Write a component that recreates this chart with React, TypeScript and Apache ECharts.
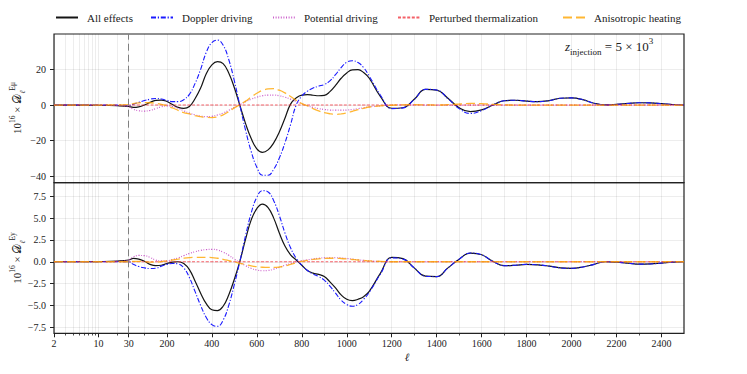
import React, { useEffect, useRef } from "react";
import * as echarts from "echarts";

// multipole grid (ℓ)
const ELL = [
  2, 5, 10, 20,
  30,
  50, 75, 100, 125, 150, 175, 200, 225, 250, 275,
  300, 325, 350, 375, 400, 425, 450, 475, 500, 525, 550, 575,
  600, 625, 650, 675, 700, 725, 750, 775, 800, 825, 850, 875,
  900, 925, 950, 975, 1000, 1025, 1050, 1075, 1100,
  1150, 1200, 1250, 1300, 1350, 1400, 1450, 1500, 1550, 1600, 1650, 1700, 1750, 1800,
  1850, 1900, 1950, 2000, 2050, 2100, 2150, 2200, 2250, 2300, 2350, 2400, 2450, 2500,
];

// Top panel: 10^16 x D_l^{E mu}
const TOP_ALL = [
  0, 0, -0.1, -0.4,
  -0.8,
  -1.3, -1.0, 0.0, 1.5, 2.6, 2.8, 2.0, 0.3, -1.3, -1.9,
  -0.8, 3.5, 9.5, 17.5, 22.5, 24.3, 23.2, 18.0, 9.7, -0.4, -10.4, -18.8,
  -24.5, -26.5, -25.1, -21.2, -15.1, -7.4, 0.5, 4.0, 5.6, 5.8, 5.5, 5.2,
  5.4, 7.5, 11.0, 15.0, 18.0, 19.7, 19.8, 18.2, 15.0,
  4.7, -1.8, -1.5, 3.2, 8.8, 8.4, 3.8, -1.5, -3.7, -2.7, 0.0, 2.4, 2.7, 2.2,
  1.9, 2.5, 3.8, 4.0, 3.0, 1.0, 0.1, 0.4, 0.9, 1.3, 1.2, 0.8, 0.3, 0.0,
];
const TOP_DOP = [
  0, 0, 0, 0,
  -0.3,
  0.5, 1.5, 2.5, 3.3, 3.7, 3.4, 2.6, 1.9, 1.9, 3.0,
  6.0, 12.0, 20.0, 29.5, 35.0, 36.4, 33.6, 25.5, 13.5, -0.5, -14.2, -26.1,
  -34.8, -39.3, -39.3, -36.0, -29.7, -21.2, -11.0, 0.0, 5.0, 7.8, 9.5, 10.6,
  11.5, 13.5, 17.0, 21.0, 24.0, 24.8, 23.8, 21.0, 16.2,
  5.5, -2.0, -1.6, 3.1, 8.8, 8.4, 3.6, -2.0, -4.7, -3.1, 0.0, 2.4, 2.7, 2.2,
  1.9, 2.5, 3.8, 4.0, 3.0, 1.0, 0.1, 0.4, 0.9, 1.3, 1.2, 0.8, 0.3, 0.0,
];
const TOP_POT = [
  0, 0, -0.05, -0.3,
  -1.0,
  -2.3, -3.2, -3.4, -3.0, -2.0, -1.0, -0.5, -0.8, -1.8, -3.2,
  -4.5, -5.5, -6.2, -6.5, -6.3, -5.6, -4.5, -3.0, -1.3, 0.3, 1.9, 3.3,
  4.4, 5.2, 5.6, 5.6, 5.2, 4.4, 3.3, 2.0, 0.7, -0.4, -1.3, -2.0,
  -2.5, -2.8, -2.9, -2.9, -2.8, -2.5, -2.0, -1.5, -1.0,
  -0.4, 0.0, 0.1, 0.1, 0.0, -0.1, 0.0, 0.0, 0.0, 0.0, 0.0, 0.0, 0.0, 0.0,
  0.0, 0.0, 0.0, 0.0, 0.0, 0.0, 0.0, 0.0, 0.0, 0.0, 0.0, 0.0, 0.0, 0.0,
];
const TOP_PERT = [
  0, 0, 0, 0,
  0,
  0, 0, 0, 0, 0, 0, 0, 0, 0, 0,
  0, 0, 0, 0, 0, 0, 0, 0, 0, 0, 0, 0,
  0, 0, 0, 0, 0, 0, 0, 0, 0, 0, 0, 0,
  0, 0, 0, 0, 0, 0, 0, 0, 0,
  0, 0, 0, 0, 0, 0, 0, 0, 0, 0, 0, 0, 0, 0,
  0, 0, 0, 0, 0, 0, 0, 0, 0, 0, 0, 0, 0, 0,
];
const TOP_ANI = [
  0, 0, 0, 0.1,
  0.3,
  0.8, 1.2, 1.4, 1.3, 1.0, 0.4, -0.5, -1.6, -3.0, -4.3,
  -5.0, -5.9, -6.5, -6.9, -7.0, -6.6, -5.5, -3.7, -1.6, 0.3, 2.2, 4.5,
  6.6, 8.2, 9.0, 9.2, 8.3, 6.8, 4.8, 2.7, 0.8, -0.4, -2.0, -3.3,
  -4.3, -4.9, -5.2, -5.0, -4.4, -3.5, -2.6, -1.8, -1.1,
  -0.5, -0.1, 0.1, 0.2, 0.1, 0.0, 0.2, 0.6, 0.9, 0.8, 0.4, 0.1, 0.0, 0.0,
  0.0, 0.0, 0.0, 0.0, 0.0, 0.0, 0.0, 0.0, 0.0, 0.0, 0.0, 0.0, 0.0, 0.0,
];

// Bottom panel: 10^16 x D_l^{E y}
const BOT_ALL = [
  0, 0, 0.02, 0.08,
  0.2,
  0.38, 0.3, 0.05, -0.3, -0.45, -0.4, -0.2, -0.05, 0.0, -0.2,
  -0.9, -2.2, -3.6, -4.8, -5.5, -5.6, -5.1, -3.8, -2.0, 0.1, 2.6, 4.8,
  6.1, 6.6, 6.2, 5.0, 3.3, 1.8, 0.8, 0.2, -0.4, -1.0, -1.3, -1.45,
  -1.7, -2.3, -3.0, -3.8, -4.3, -4.45, -4.3, -4.0, -3.4,
  -1.3, 0.5, 0.35, -0.7, -1.65, -1.7, -0.7, 0.3, 1.0, 0.8, 0.05, -0.45, -0.4, -0.3,
  -0.35, -0.5, -0.7, -0.75, -0.6, -0.3, 0.0, -0.05, -0.15, -0.27, -0.25, -0.15, -0.05, 0.0,
];
const BOT_DOP = [
  0, 0, 0, 0,
  0.0,
  -0.3, -0.55, -0.7, -0.78, -0.75, -0.5, -0.3, -0.2, -0.25, -0.7,
  -1.8, -3.4, -5.0, -6.4, -7.2, -7.4, -6.7, -5.0, -2.6, 0.1, 3.0, 5.6,
  7.4, 8.15, 8.0, 7.0, 5.3, 3.3, 1.6, 0.4, -0.4, -1.0, -1.4, -1.7,
  -2.1, -2.8, -3.6, -4.4, -4.9, -5.1, -4.9, -4.3, -3.5,
  -1.4, 0.45, 0.3, -0.7, -1.65, -1.7, -0.7, 0.3, 1.0, 0.8, 0.05, -0.45, -0.4, -0.3,
  -0.35, -0.5, -0.7, -0.75, -0.6, -0.3, 0.0, -0.05, -0.15, -0.27, -0.25, -0.15, -0.05, 0.0,
];
const BOT_POT = [
  0, 0, 0, 0.05,
  0.2,
  0.55, 0.72, 0.7, 0.5, 0.2, 0.1, 0.12, 0.25, 0.45, 0.7,
  0.95, 1.15, 1.3, 1.4, 1.42, 1.35, 1.1, 0.75, 0.3, -0.1, -0.45, -0.75,
  -0.95, -1.03, -1.0, -0.85, -0.65, -0.4, -0.2, 0.0, 0.12, 0.22, 0.32, 0.4,
  0.45, 0.46, 0.46, 0.43, 0.38, 0.3, 0.22, 0.15, 0.1,
  0.03, 0.0, 0.0, 0.0, 0.0, 0.0, 0.0, 0.0, 0.0, 0.0, 0.0, 0.0, 0.0, 0.0,
  0.0, 0.0, 0.0, 0.0, 0.0, 0.0, 0.0, 0.0, 0.0, 0.0, 0.0, 0.0, 0.0, 0.0,
];
const BOT_PERT = [
  0, 0, 0, 0,
  0,
  0, 0, 0, 0, 0, 0, 0, 0, 0, 0,
  0, 0, 0, 0, 0, 0, 0, 0, 0, 0, 0, 0,
  0, 0, 0, 0, 0, 0, 0, 0, 0, 0, 0, 0,
  0, 0, 0, 0, 0, 0, 0, 0, 0,
  0, 0, 0, 0, 0, 0, 0, 0, 0, 0, 0, 0, 0, 0,
  0, 0, 0, 0, 0, 0, 0, 0, 0, 0, 0, 0, 0, 0,
];
const BOT_ANI = [
  0, 0, 0, 0,
  0.0,
  0.05, 0.05, 0.0, -0.05, -0.05, 0.02, 0.1, 0.2, 0.3, 0.4,
  0.47, 0.5, 0.5, 0.5, 0.48, 0.4, 0.28, 0.13, -0.03, -0.18, -0.33, -0.47,
  -0.57, -0.63, -0.65, -0.65, -0.6, -0.48, -0.3, -0.12, 0.05, 0.17, 0.27, 0.34,
  0.38, 0.4, 0.4, 0.37, 0.32, 0.26, 0.2, 0.15, 0.1,
  0.04, 0.0, 0.0, 0.0, 0.0, 0.0, 0.0, 0.0, 0.0, 0.0, 0.0, 0.0, 0.0, 0.0,
  0.0, 0.0, 0.0, 0.0, 0.0, 0.0, 0.0, 0.0, 0.0, 0.0, 0.0, 0.0, 0.0, 0.0,
];

const X_MAJOR = [2, 10, 30, 200, 400, 600, 800, 1000, 1200, 1400, 1600, 1800, 2000, 2200, 2400];
const X_MINOR = [3, 4, 5, 6, 7, 8, 9, 20, 100, 300, 500, 700, 900, 1100, 1300, 1500, 1700, 1900, 2100, 2300];
const TOP_Y_TICKS = [-40, -20, 0, 20];
const BOT_Y_TICKS = [-7.5, -5, -2.5, 0, 2.5, 5, 7.5];
const L_SPLIT = 30;
const L_INJ_MARK = 30;

// symlog-like transform: log below ℓ=30, linear above
const L_MIN = 2;
const L_MAX = 2500;
const LOG_SPAN = 332.2;
const tx = (l: number) =>
  l >= L_SPLIT ? l : L_SPLIT - (Math.log10(L_SPLIT / l) / Math.log10(L_SPLIT / L_MIN)) * LOG_SPAN;

const FONT = "Liberation Serif";
const TXT = "#222";
const GRID_LINE = "rgba(0,0,0,0.09)";

const STY = [
  { name: "All effects", color: "#141414", width: 1.2, type: "solid" as any },
  { name: "Doppler driving", color: "#1a1aff", width: 1.1, type: [5, 1.8, 1.2, 1.8] as any },
  { name: "Potential driving", color: "rgba(185,40,185,0.75)", width: 1.2, type: [1, 1.6] as any },
  { name: "Perturbed thermalization", color: "rgba(240,30,40,0.7)", width: 1.1, type: [3, 1.6] as any },
  { name: "Anisotropic heating", color: "rgba(255,165,0,0.8)", width: 1.3, type: [9, 4] as any },
];
const LEGEND_LEFT = [55, 150, 272, 397, 562];

function majorLabel(v: number) {
  for (const l of X_MAJOR) if (Math.abs(tx(l) - v) < 0.5) return String(l);
  return "";
}
const fmtNum = (v: number, d: number) => (v < 0 ? "\u2212" : "") + Math.abs(v).toFixed(d);

function buildOption() {
  const panels = [
    [TOP_ALL, TOP_DOP, TOP_POT, TOP_PERT, TOP_ANI],
    [BOT_ALL, BOT_DOP, BOT_POT, BOT_PERT, BOT_ANI],
  ];
  const series: any[] = [];
  panels.forEach((vals, p) => {
    vals.forEach((v, k) => {
      const st = STY[k];
      series.push({
        type: "line",
        name: st.name,
        xAxisIndex: p * 2,
        yAxisIndex: p,
        data: ELL.map((l, i) => [tx(l), v[i]]),
        smooth: 0.45,
        symbol: "none",
        showSymbol: false,
        silent: true,
        lineStyle: { color: st.color, width: st.width, type: st.type },
        itemStyle: { color: st.color },
        markLine:
          k === 0
            ? {
                silent: true,
                symbol: ["none", "none"],
                label: { show: false },
                lineStyle: { color: "#808080", type: [7, 4], width: 1 },
                data: [{ xAxis: tx(L_INJ_MARK) }],
              }
            : undefined,
      });
    });
  });

  const xBase = (grid: number, showLabels: boolean) => [
    {
      type: "value",
      gridIndex: grid,
      min: tx(L_MIN),
      max: L_MAX,
      position: "bottom",
      axisLine: { show: false, onZero: false },
      axisTick: {
        show: showLabels,
        customValues: X_MAJOR.map(tx),
        length: 4,
        lineStyle: { color: TXT, width: 1 },
      },
      axisLabel: {
        show: showLabels,
        customValues: X_MAJOR.map(tx),
        formatter: (v: number) => majorLabel(v),
        fontFamily: FONT,
        fontSize: 10,
        color: TXT,
        margin: 5,
      },
      splitLine: { show: true, lineStyle: { color: GRID_LINE, width: 0.8 } },
    },
    {
      type: "value",
      gridIndex: grid,
      min: tx(L_MIN),
      max: L_MAX,
      position: "bottom",
      axisLine: { show: false, onZero: false },
      axisTick: {
        show: showLabels,
        customValues: X_MINOR.map(tx),
        length: 2.2,
        lineStyle: { color: TXT, width: 0.8 },
      },
      axisLabel: { show: false },
      splitLine: { show: true, lineStyle: { color: GRID_LINE, width: 0.8 } },
    },
  ];

  const yBase = (grid: number, min: number, max: number, ticks: number[], dec: number) => ({
    type: "value",
    gridIndex: grid,
    min,
    max,
    position: "left",
    axisLine: { show: false, onZero: false },
    axisTick: { show: true, customValues: ticks, length: 4, lineStyle: { color: TXT, width: 1 } },
    axisLabel: {
      customValues: ticks,
      formatter: (v: number) => fmtNum(v, dec),
      fontFamily: FONT,
      fontSize: 10,
      color: TXT,
      margin: 8,
    },
    splitLine: { show: true, lineStyle: { color: GRID_LINE, width: 0.8 } },
  });

  const legends = STY.map((st, i) => ({
    data: [st.name],
    left: LEGEND_LEFT[i],
    top: 12,
    padding: 0,
    itemWidth: 22,
    itemHeight: 10,
    selectedMode: false,
    itemStyle: { opacity: 0, borderWidth: 0 },
    textStyle: { fontFamily: FONT, fontSize: 11, color: TXT, padding: [0, 0, 0, 4] },
  }));

  const yName = (y: number, supTxt: string) => ({
    type: "text",
    x: 17,
    y,
    rotation: Math.PI / 2,
    silent: true,
    style: {
      text: `{n|10}{s|16}{n| \u00d7 }{d|\ud835\udc9f}{b|\u2113}{s|${supTxt}}`,
      align: "center",
      verticalAlign: "middle",
      fill: TXT,
      fontFamily: FONT,
      rich: {
        n: { fontFamily: FONT, fontSize: 11, lineHeight: 18, fill: TXT },
        d: { fontFamily: FONT, fontSize: 12, lineHeight: 18, fill: TXT },
        s: { fontFamily: FONT, fontSize: 7.5, lineHeight: 9, verticalAlign: "top", fill: TXT },
        b: { fontFamily: FONT, fontSize: 7.5, lineHeight: 12, verticalAlign: "bottom", fontStyle: "italic", fill: TXT },
      },
    },
  });

  return {
    animation: false,
    backgroundColor: "#fff",
    textStyle: { fontFamily: FONT },
    legend: legends,
    grid: [
      { left: 54, top: 34, width: 630, height: 148.7, show: true, borderColor: "#222", borderWidth: 1.2, backgroundColor: "transparent" },
      { left: 54, top: 182.7, width: 630, height: 150.6, show: true, borderColor: "#222", borderWidth: 1.2, backgroundColor: "transparent" },
    ],
    xAxis: [...xBase(0, false), ...xBase(1, true)],
    yAxis: [yBase(0, -43.5, 39.8, TOP_Y_TICKS, 0), yBase(1, -8.2, 9.06, BOT_Y_TICKS, 1)],
    series,
    graphic: [
      yName(108, "E\u03bc"),
      yName(258, "Ey"),
      {
        type: "text",
        x: 407,
        y: 357,
        silent: true,
        style: {
          text: "\u2113",
          align: "center",
          verticalAlign: "middle",
          fontFamily: FONT,
          fontSize: 11,
          fontStyle: "italic",
          fill: TXT,
        },
      },
      {
        type: "text",
        x: 565,
        y: 46,
        silent: true,
        style: {
          text: "{i|z}{sb|injection}{n| = 5 \u00d7 10}{sp|3}",
          align: "left",
          verticalAlign: "middle",
          fill: TXT,
          fontFamily: FONT,
          rich: {
            i: { fontFamily: FONT, fontSize: 13, fontStyle: "italic", lineHeight: 20, fill: TXT },
            n: { fontFamily: FONT, fontSize: 13, lineHeight: 20, fill: TXT },
            sb: { fontFamily: FONT, fontSize: 9, lineHeight: 14, verticalAlign: "bottom", fill: TXT },
            sp: { fontFamily: FONT, fontSize: 9, lineHeight: 11, verticalAlign: "top", fill: TXT },
          },
        },
      },
    ],
  };
}

export default function App() {
  const ref = useRef<HTMLDivElement>(null);
  useEffect(() => {
    if (!ref.current) return;
    const chart = echarts.init(ref.current, null, { renderer: "svg" });
    chart.setOption(buildOption() as any);
    return () => chart.dispose();
  }, []);
  return (
    <div
      ref={ref}
      style={{ position: "fixed", left: 0, top: 0, width: 747, height: 374, background: "#fff" }}
    />
  );
}
